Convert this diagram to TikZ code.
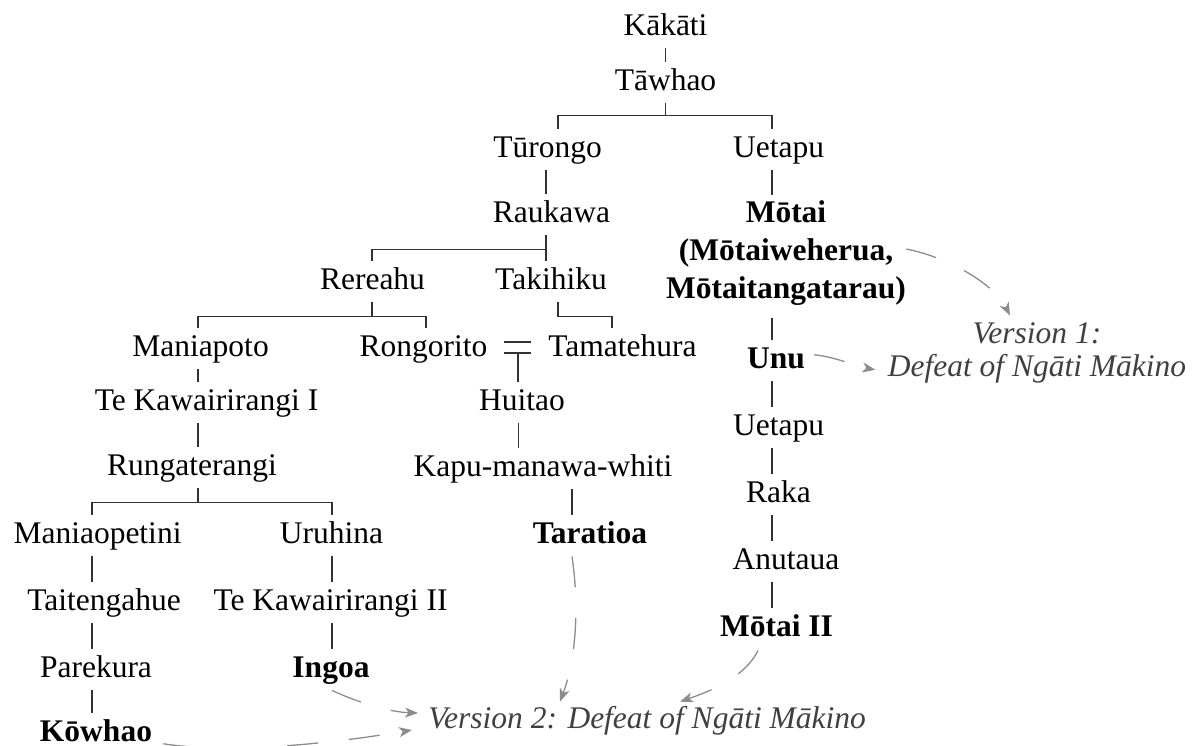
\documentclass[tikz,border=0pt]{standalone}
\usepackage{fontspec}
\setmainfont{Liberation Serif}
\usetikzlibrary{calc,arrows.meta}
\definecolor{linecol}{RGB}{50,50,50}
\definecolor{arrcol}{RGB}{140,140,140}
\definecolor{vtext}{RGB}{64,64,64}
\newcommand\mytopstrut{\rule{0pt}{13.75pt}}
\newcommand\mybotstrut[1]{\rule[-#1]{0pt}{#1}}
\tikzset{
  nd/.style={anchor=base, inner sep=0pt, text height=13.75pt, text depth=6.5pt, font=\fontsize{15.75pt}{19pt}\selectfont},
  bnd/.style={nd, font=\fontsize{15.75pt}{19pt}\selectfont\bfseries},
  tl/.style={draw=linecol, line width=0.75pt},
  ar/.style={draw=arrcol, line width=0.65pt, dash pattern=on 15.5pt off 15.5pt, -{Stealth[length=6.5pt,width=5pt,inset=1.8pt]}},
  vt/.style={text=vtext, font=\fontsize{15.75pt}{16.5pt}\selectfont\itshape}
}
\begin{document}
\begin{tikzpicture}[x=0.5pt,y=-0.5pt]
\path[use as bounding box] (0,0) rectangle (1199,745);
% nodes
\node[nd] (kakati) at (665.5,35) {Kākāti};
\node[nd] (tawhao) at (665.5,90) {Tāwhao};
\node[nd] (turongo) at (547.5,157) {Tūrongo};
\node[nd] (uetapu) at (778.5,157) {Uetapu};
\node[nd] (raukawa) at (551.5,222) {Raukawa};
\node[anchor=north, inner sep=0pt, align=center, font=\fontsize{15.75pt}{19pt}\selectfont\bfseries] (motai) at (786,194.5)
  {\mytopstrut Mōtai\\(Mōtaiweherua,\\Mōtaitangatarau)\mybotstrut{9.5pt}};
\node[nd] (rereahu) at (372.5,289) {Rereahu};
\node[nd] (takihiku) at (551,289) {Takihiku};
\node[nd] (maniapoto) at (200.5,356) {Maniapoto};
\node[nd] (rongorito) at (423.5,356) {Rongorito};
\node[nd] (tamatehura) at (622.5,356) {Tamatehura};
\node[nd] (huitao) at (522,410) {Huitao};
\node[nd] (tk1) at (206.5,410) {Te Kawairirangi I};
\node[nd] (kapu) at (543,476) {Kapu-manawa-whiti};
\node[nd] (rungaterangi) at (192,475) {Rungaterangi};
\node[bnd] (taratioa) at (590,543) {Taratioa};
\node[nd] (maniaopetini) at (97.5,543) {Maniaopetini};
\node[nd] (uruhina) at (331.5,543) {Uruhina};
\node[nd] (taitengahue) at (104,610) {Taitengahue};
\node[nd] (tk2) at (330.5,610) {Te Kawairirangi II};
\node[nd] (parekura) at (96,677) {Parekura};
\node[bnd] (ingoa) at (331,677) {Ingoa};
\node[bnd, text depth=0pt] (kowhao) at (96,741) {Kōwhao};
\node[bnd] (unu) at (776,368) {Unu};
\node[nd] (uetapub) at (778.5,435) {Uetapu};
\node[nd] (raka) at (778.5,502) {Raka};
\node[nd] (anutaua) at (786,569) {Anutaua};
\node[bnd] (motaib) at (776.5,636) {Mōtai II};
\node[vt, anchor=north, inner sep=0pt, align=center] (v1) at (1037,315.5)
  {\mytopstrut Version 1:\\Defeat of Ngāti Mākino\mybotstrut{6.5pt}};
\node[nd, vt, anchor=base west] (v2) at (428,728) {Version 2: Defeat of Ngāti Mākino};
% tree connectors
\draw[tl] (kakati.south) -- (tawhao.north);
\draw[tl] (tawhao.south) -- ++(0,12) -| ($(turongo.north)+(10.5,0)$);
\draw[tl] (tawhao.south) ++(0,12) -| ($(uetapu.north)+(-6.5,0)$);
\draw[tl] ($(turongo.south)+(-1.5,0)$) -- ($(raukawa.north)+(-5.5,0)$);
\draw[tl] ($(uetapu.south)+(-6.5,0)$) -- ($(motai.north)+(-14,0)$);
\draw[tl] ($(raukawa.south)+(-5.5,0)$) -- ($(takihiku.north)+(-5,0)$);
\draw[tl] ($(raukawa.south)+(-5.5,14)$) -| ($(rereahu.north)+(-0.5,0)$);
\draw[tl] ($(rereahu.south)+(-0.5,0)$) -- ++(0,14) coordinate (rb) -| ($(maniapoto.north)+(-2.5,0)$);
\draw[tl] (rb) -| ($(rongorito.north)+(2.5,0)$);
\draw[tl] ($(takihiku.south)+(7,0)$) -- ++(0,14) -| ($(tamatehura.north)+(-10.5,0)$);
\coordinate (marr) at ($(rongorito.east)!0.5!(tamatehura.west)$);
\draw[tl] ($(marr)+(-13.5,-7)$) -- ++(27,0);
\draw[tl] ($(marr)+(-13.5,4)$) -- ++(27,0);
\draw[tl] ($(marr)+(0,4)$) coordinate (mv) -- (mv |- huitao.north);
\draw[tl] ($(huitao.south)+(-3.5,0)$) -- ($(kapu.north)+(-24.5,0)$);
\draw[tl] ($(kapu.south)+(29,0)$) -- ($(taratioa.north)+(-18,0)$);
\draw[tl] ($(maniapoto.south)+(-2.5,0)$) -- ($(tk1.north)+(-8.5,0)$);
\draw[tl] ($(tk1.south)+(-8.5,0)$) -- ($(rungaterangi.north)+(6,0)$);
\draw[tl] ($(rungaterangi.south)+(6,0)$) -- ++(0,14) coordinate (gb) -| ($(maniaopetini.north)+(-5.5,0)$);
\draw[tl] (gb) -| ($(uruhina.north)+(0.5,0)$);
\draw[tl] ($(maniaopetini.south)+(-5.5,0)$) -- ($(taitengahue.north)+(-12,0)$);
\draw[tl] ($(taitengahue.south)+(-12,0)$) -- ($(parekura.north)+(-4,0)$);
\draw[tl] ($(parekura.south)+(-4,0)$) -- ($(kowhao.north)+(-4,0)$);
\draw[tl] ($(uruhina.south)+(0.5,0)$) -- ($(tk2.north)+(1.5,0)$);
\draw[tl] ($(tk2.south)+(1.5,0)$) -- ($(ingoa.north)+(1,0)$);
\draw[tl] ($(motai.south)+(-14,0)$) -- ($(unu.north)+(-4,0)$);
\draw[tl] ($(unu.south)+(-4,0)$) -- ($(uetapub.north)+(-6.5,0)$);
\draw[tl] ($(uetapub.south)+(-6.5,0)$) -- ($(raka.north)+(-6.5,0)$);
\draw[tl] ($(raka.south)+(-6.5,0)$) -- ($(anutaua.north)+(-14,0)$);
\draw[tl] ($(anutaua.south)+(-14,0)$) -- ($(motaib.north)+(-4.5,0)$);
% dashed arrows
\draw[ar] ($(motai.north east)+(0,54.5)$) .. controls +(45,9) and +(-15,-30) .. ($(v1.north)+(-27,0)$);
\draw[ar] ($(unu.east)+(9,-6)$) .. controls +(25,3) and +(-22,-4) .. ($(v1.south west)+(-12,-20)$);
\draw[ar] ($(taratioa.south)+(-18,0)$) .. controls +(8,55) and +(15,-40) .. ($(v2.north west)+(132,1.5)$);
\draw[ar] ($(motaib.south)+(-18.5,1)$) .. controls +(-12,25) and +(35,-12) .. ($(v2.north west)+(252,1.5)$);
\draw[ar] ($(ingoa.south)+(1,0)$) .. controls +(28,13) and +(-28,-1) .. ($(v2.west)+(-10,-7.75)$);
\draw[ar] ($(kowhao.east)+(11,16.5)$) .. controls +(37,6) and +(-132,22) .. ($(v2.west)+(-16,9.25)$);
\end{tikzpicture}
\end{document}
